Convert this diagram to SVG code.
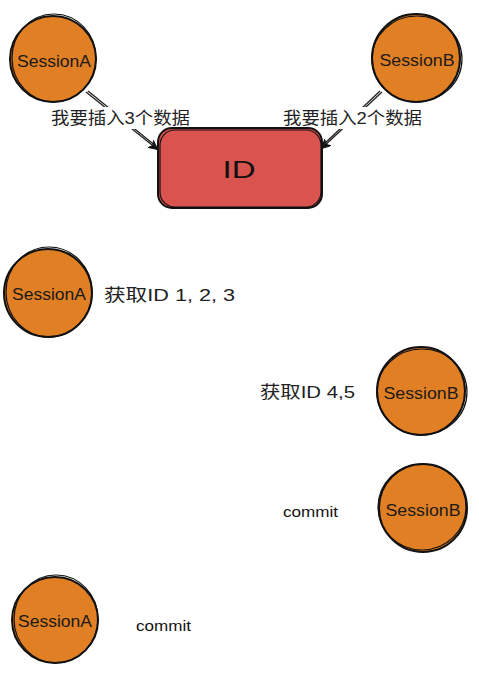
<svg xmlns="http://www.w3.org/2000/svg" width="479" height="673" viewBox="0 0 479 673">
<style>
.node circle.fill{fill:#e17f24;stroke:none}
.node .s1{fill:none;stroke:#111;stroke-width:2}
.node .s2{fill:none;stroke:#111;stroke-width:1.2}
.nt{font-family:"Liberation Sans","DejaVu Sans",sans-serif;font-size:16px;fill:#1a1a1a;text-anchor:middle;dominant-baseline:central}
.lbl{font-family:"Liberation Sans","Noto Sans CJK SC",sans-serif;font-size:17px;fill:#222;dominant-baseline:central}
.cm{font-family:"Liberation Sans","DejaVu Sans",sans-serif;font-size:15px;fill:#111;dominant-baseline:central}
.edge{fill:none;stroke:#222;stroke-width:1.3}
</style>
<defs>
<marker id="ah" viewBox="0 0 10 10" refX="9" refY="5" markerWidth="9" markerHeight="9" orient="auto" markerUnits="userSpaceOnUse">
<path d="M0,0 L10,5 L0,10 L3,5 Z" fill="#111" stroke="#111"/>
</marker>
</defs>
<rect width="479" height="673" fill="#fff"/>
<g id="connectors">
<path class="edge" d="M86,92 L157,149" marker-end="url(#ah)"/>
<path class="edge" d="M88,91 L157,147"/>
<path class="edge" d="M382,92 L322,148" marker-end="url(#ah)"/>
<path class="edge" d="M380,91 L322,146"/>
<rect x="50" y="107" width="142" height="22" fill="#fff"/>
<rect x="282" y="107" width="142" height="22" fill="#fff"/>
<text class="lbl" x="51" y="118" textLength="139" lengthAdjust="spacingAndGlyphs">我要插入3个数据</text>
<text class="lbl" x="283" y="118" textLength="139" lengthAdjust="spacingAndGlyphs">我要插入2个数据</text>
</g>
<g id="id-box" class="node">
<rect x="158" y="128" width="164" height="80" rx="14" fill="#d9534f"/>
<rect class="s1" x="158" y="128" width="164" height="80" rx="14"/>
<rect class="s2" x="160" y="130" width="161" height="77" rx="15"/>
<text x="239" y="169" textLength="33" lengthAdjust="spacingAndGlyphs" style="font-family:'Liberation Sans',sans-serif;font-size:24px;fill:#111;text-anchor:middle;dominant-baseline:central">ID</text>
</g>
<g id="sessionA-1" class="node">
<circle class="fill" cx="53" cy="59" r="43"/>
<circle class="s1" cx="53" cy="59" r="43"/>
<ellipse class="s2" cx="54" cy="58" rx="42" ry="44"/>
<text class="nt" x="54" y="61" textLength="74" lengthAdjust="spacingAndGlyphs">SessionA</text>
</g>
<g id="sessionB-1" class="node">
<circle class="fill" cx="416" cy="58" r="44"/>
<circle class="s1" cx="416" cy="58" r="44"/>
<ellipse class="s2" cx="417" cy="59" rx="45" ry="43"/>
<text class="nt" x="417" y="60" textLength="75" lengthAdjust="spacingAndGlyphs">SessionB</text>
</g>
<g id="sessionA-2" class="node">
<circle class="fill" cx="48" cy="293" r="44"/>
<circle class="s1" cx="48" cy="293" r="44"/>
<ellipse class="s2" cx="49" cy="292" rx="43" ry="45"/>
<text class="nt" x="49" y="294" textLength="74" lengthAdjust="spacingAndGlyphs">SessionA</text>
<text class="lbl" x="104" y="295" textLength="131" lengthAdjust="spacingAndGlyphs">获取ID 1,  2, 3</text>
</g>
<g id="sessionB-2" class="node">
<circle class="fill" cx="421" cy="391" r="44"/>
<circle class="s1" cx="421" cy="391" r="44"/>
<ellipse class="s2" cx="422" cy="392" rx="45" ry="43"/>
<text class="nt" x="421" y="393" textLength="75" lengthAdjust="spacingAndGlyphs">SessionB</text>
<text class="lbl" x="260" y="392" textLength="95" lengthAdjust="spacingAndGlyphs">获取ID 4,5</text>
</g>
<g id="sessionB-3" class="node">
<circle class="fill" cx="423" cy="508" r="44"/>
<circle class="s1" cx="423" cy="508" r="44"/>
<ellipse class="s2" cx="422" cy="507" rx="44" ry="43"/>
<text class="nt" x="423" y="510" textLength="75" lengthAdjust="spacingAndGlyphs">SessionB</text>
<text class="cm" x="283" y="511" textLength="55" lengthAdjust="spacingAndGlyphs">commit</text>
</g>
<g id="sessionA-3" class="node">
<circle class="fill" cx="55" cy="620" r="43"/>
<circle class="s1" cx="55" cy="620" r="43"/>
<ellipse class="s2" cx="56" cy="619" rx="42" ry="44"/>
<text class="nt" x="55" y="621" textLength="74" lengthAdjust="spacingAndGlyphs">SessionA</text>
<text class="cm" x="136" y="625" textLength="55" lengthAdjust="spacingAndGlyphs">commit</text>
</g>
</svg>
